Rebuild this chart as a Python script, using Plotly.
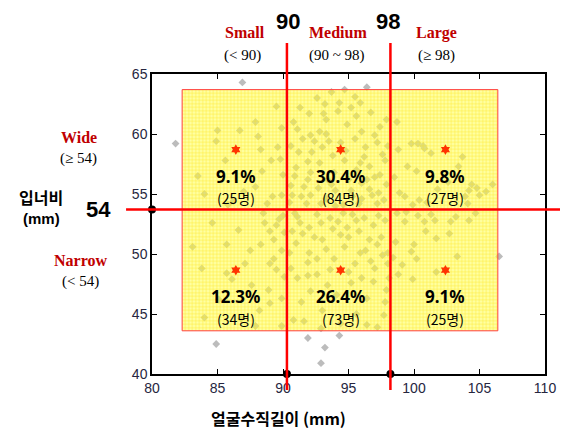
import plotly.graph_objects as go

# ---- data ----
tl = [(81.8,59.2),(86.9,64.3),(87.9,61.0),(85.0,60.3),(86.7,60.3),(84.9,59.4),(88.1,59.8),(89.9,60.5),
      (85.6,57.8),(88.3,58.7),(89.1,57.8),(89.8,57.9),(88.4,56.9),(87.9,55.6),(89.2,54.8),(89.9,54.9),
      (90.0,56.6),(89.5,62.3),(84.0,55.0),(86.2,54.4),(88.8,54.2),(83.5,56.5),(87.0,55.2),(89.6,58.9),(85.8,54.1)]
tm = [(93.2,62.5),(92.0,61.7),(93.1,61.7),(93.3,61.2),(91.1,60.4),(92.1,59.9),(93.3,60.0),(92.8,60.2),
      (92.4,59.4),(93.5,59.4),(91.2,58.5),(93.8,58.2),(91.9,57.7),(92.1,56.8),(91.9,56.2),(93.4,56.2),
      (90.6,55.7),(90.7,54.9),(91.4,54.8),(92.1,54.9),(96.4,63.9),(94.7,63.7),(95.5,63.1),(95.9,62.6),
      (97.0,59.9),(97.2,59.3),(96.3,58.9),(94.7,57.8),(97.8,57.8),(96.6,57.3),(97.0,56.4),(96.4,56.2),
      (97.9,55.8),(95.3,54.8),(96.8,54.9),(97.7,54.5),(95.2,62.2),(97.4,60.6),(96.0,60.2),(95.9,57.6),
      (95.6,57.0),(97.4,56.6),(96.0,55.9),(96.6,55.4),(97.2,54.2),(95.8,54.2),(94.6,54.1),(94.0,55.3),
      (93.3,54.6),(92.7,55.5),(93.9,56.8),(94.4,59.3),(94.9,60.8),(95.6,61.5),(94.2,61.9),(92.6,63.0),
      (91.3,62.2),(90.8,61.0),(90.6,59.0),(91.0,57.2),(92.8,57.6),(94.8,58.6),(93.7,55.8),(95.0,56.2),
      (91.6,55.6),(90.5,54.3),(91.8,54.2),(92.9,54.2),(94.0,54.0),(95.2,55.3),(97.9,61.2),(98.0,59.0),
      (97.6,58.3),(95.5,59.6),(93.7,63.5),(94.3,62.6),(96.7,61.8),(96.2,58.1),(92.2,58.5),(93.0,58.9),
      (91.5,59.6),(90.9,56.5),(97.3,55.1),(96.0,54.6)]
tr = [(98.7,61.0),(99.8,59.2),(100.3,59.2),(100.8,58.8),(98.8,58.7),(99.5,57.3),(100.2,56.9),(103.7,58.1),
      (103.4,57.3),(106.0,55.8),(104.4,55.8),(104.2,55.3),(98.9,55.1),(99.3,54.8),(100.4,54.5),(99.9,54.1),
      (103.9,54.8),(104.8,55.5),(101.3,58.4),(100.7,59.0),(104.1,54.2),(105.0,54.9),(101.8,55.4),(102.6,56.0),
      (98.5,56.4),(101.0,54.3),(105.5,55.2)]
bl = [(83.1,50.6),(85.7,50.8),(87.5,50.3),(87.1,49.2),(85.7,48.4),(86.1,47.9),(89.0,49.2),(89.3,49.6),
      (89.9,50.3),(90.1,51.8),(89.0,51.9),(89.5,52.4),(88.5,53.4),(88.9,47.0),(89.0,45.9),(89.9,46.3),
      (84.0,44.7),(87.9,44.0),(89.9,44.0),(84.9,42.5),(89.5,48.7),(90.0,53.2),(89.7,52.9),(88.6,52.6),
      (89.3,51.2),(88.3,50.8),(86.6,52.0),(84.6,52.6),(87.6,47.4),(85.1,46.2),(88.2,45.3),(86.8,44.6),
      (90.1,48.1),(83.8,48.8)]
bm = [(91.1,53.1),(91.3,52.6),(92.0,52.2),(92.6,53.3),(93.0,51.2),(91.0,50.9),(92.0,50.1),(91.9,49.3),
      (90.6,48.8),(91.1,48.0),(91.9,48.2),(92.6,48.3),(92.1,46.9),(90.8,44.5),(91.9,43.0),(92.9,40.9),
      (95.3,53.3),(96.2,53.0),(95.6,52.8),(94.4,51.6),(95.0,51.4),(95.8,51.9),(96.9,52.4),(97.5,51.4),
      (97.2,50.8),(96.3,50.3),(95.9,50.1),(96.7,49.4),(97.0,48.8),(98.0,50.1),(98.0,49.2),(96.9,47.7),
      (97.9,47.0),(97.8,46.0),(97.7,44.9),(93.6,53.0),(94.2,52.7),(93.8,52.1),(94.6,53.4),(97.3,53.2),
      (97.8,52.8),(93.3,50.4),(93.9,49.6),(94.7,50.6),(92.6,49.6),(90.7,51.9),(90.5,50.1),(93.4,47.4),
      (95.2,47.6),(94.1,46.6),(91.4,46.0),(93.0,45.3),(95.6,45.0),(96.4,46.3),(91.6,44.4),(94.4,44.2),
      (96.4,44.1),(97.2,43.9),(92.9,43.8),(95.0,48.5),(96.0,48.0),(93.6,48.7),(92.4,51.4),(91.5,51.7),
      (96.6,51.2),(97.6,49.9),(94.9,52.2),(92.9,52.6),(90.9,53.4),(98.1,48.0),(94.3,43.2),(93.2,42.2),
      (95.5,49.2)]
br = [(98.7,53.4),(99.4,53.5),(99.3,52.7),(100.8,52.7),(101.6,52.8),(102.8,52.7),(101.7,51.3),(100.9,51.9),
      (102.7,51.7),(100.0,50.8),(99.8,50.2),(100.2,49.6),(103.3,49.8),(99.1,49.1),(98.8,48.3),(99.9,47.9),
      (101.7,48.5),(106.5,49.8),(101.3,53.3),(103.2,53.1),(104.7,53.4),(104.2,52.8),(98.6,51.0),(98.4,49.7),
      (100.3,53.2)]
points = tl + tm + tr + bl + bm + br
px = [p[0] for p in points]
py = [p[1] for p in points]

cut_x = [90.3, 98.2]        # drawn positions of the 90 / 98 cut lines
cut_y = 53.7                # drawn position of the 54 cut line
rect_x = [82.3, 106.4]
rect_y = [43.6, 63.7]
center_x = [86.4, 94.4, 102.4]
center_y = [58.7, 48.65]
pct_top = ["9.1%", "30.4%", "9.8%"]
cnt_top = ["(25명)", "(84명)", "(27명)"]
pct_bot = ["12.3%", "26.4%", "9.1%"]
cnt_bot = ["(34명)", "(73명)", "(25명)"]
pct_y = [56.5, 46.5]
cnt_y = [54.7, 44.6]
x_ticks = [80, 85, 90, 95, 100, 105, 110]
y_ticks = [40, 45, 50, 55, 60, 65]

fig = go.Figure()

fig.add_trace(go.Scatter(x=px, y=py, mode="markers",
    marker=dict(symbol="diamond", size=6, color="#bcbcbc"), hoverinfo="skip"))

# yellow grid rectangle on top (semi-transparent)
fig.add_trace(go.Scatter(
    x=[rect_x[0], rect_x[1], rect_x[1], rect_x[0], rect_x[0]],
    y=[rect_y[0], rect_y[0], rect_y[1], rect_y[1], rect_y[0]],
    mode="lines", fill="toself",
    fillcolor="rgba(255,255,70,0.5)",
    fillpattern=dict(shape="+", size=3.5, solidity=0.3, fgcolor="#ffdd00", fgopacity=0.6, fillmode="overlay"),
    line=dict(color="#ff4040", width=1), hoverinfo="skip"))

fig.add_trace(go.Scatter(x=[c for c in center_x for _ in center_y], y=[r for _ in center_x for r in center_y],
    mode="markers", marker=dict(symbol="hexagram", size=8, color="#ff3300"), hoverinfo="skip"))

fig.add_trace(go.Scatter(x=[cut_x[0], cut_x[1], 80], y=[40, 40, cut_y], mode="markers",
    marker=dict(size=8, color="black"), cliponaxis=False, hoverinfo="skip"))

red = "#ff0000"
for cx in cut_x:
    fig.add_shape(type="line", xref="x", yref="paper", x0=cx, x1=cx, y0=-0.053, y1=1.103,
                  line=dict(color=red, width=2.5), layer="above")
fig.add_shape(type="line", xref="paper", yref="y", x0=-0.066, x1=1.06, y0=cut_y, y1=cut_y,
              line=dict(color=red, width=2.5), layer="above")

kr = "Noto Sans CJK KR"
pf = "Noto Sans"
for i, cx in enumerate(center_x):
    fig.add_annotation(x=cx, y=pct_y[0], text=f"<b>{pct_top[i]}</b>", showarrow=False,
                       font=dict(family=pf, size=17, color="black"))
    fig.add_annotation(x=cx, y=cnt_y[0], text=cnt_top[i], showarrow=False,
                       font=dict(family=kr, size=14, color="black"))
    fig.add_annotation(x=cx, y=pct_y[1], text=f"<b>{pct_bot[i]}</b>", showarrow=False,
                       font=dict(family=pf, size=17, color="black"))
    fig.add_annotation(x=cx, y=cnt_y[1], text=cnt_bot[i], showarrow=False,
                       font=dict(family=kr, size=14, color="black"))

serif = "Liberation Serif"
dred = "#c00000"
labels = [
    (0.236, 1.137, "<b>Small</b>", serif, 16, dred),
    (0.231, 1.063, "(< 90)", serif, 15, "black"),
    (0.346, 1.175, "<b>90</b>", "Liberation Sans", 22, "black"),
    (0.474, 1.137, "<b>Medium</b>", serif, 16, dred),
    (0.472, 1.063, "(90 ~ 98)", serif, 15, "black"),
    (0.600, 1.175, "<b>98</b>", "Liberation Sans", 22, "black"),
    (0.725, 1.137, "<b>Large</b>", serif, 16, dred),
    (0.725, 1.063, "(≥ 98)", serif, 15, "black"),
    (-0.187, 0.790, "<b>Wide</b>", serif, 16, dred),
    (-0.187, 0.717, "(≥ 54)", serif, 15, "black"),
    (-0.282, 0.590, "<b>입너비</b>", kr, 16, "black"),
    (-0.282, 0.517, "<b>(mm)</b>", "Liberation Sans", 15, "black"),
    (-0.136, 0.547, "<b>54</b>", "Liberation Sans", 22, "black"),
    (-0.182, 0.380, "<b>Narrow</b>", serif, 16, dred),
    (-0.182, 0.307, "(< 54)", serif, 15, "black"),
    (0.322, -0.147, "<b>얼굴수직길이 (mm)</b>", kr, 16, "black"),
]
for x, y, t, fam, sz, col in labels:
    fig.add_annotation(xref="paper", yref="paper", x=x, y=y, text=t, showarrow=False,
                       xanchor="center", yanchor="middle", font=dict(family=fam, size=sz, color=col))

axis_common = dict(showgrid=False, zeroline=False, showline=True, linecolor="black", linewidth=1.5,
                   mirror="ticks", ticks="inside", ticklen=5, tickcolor="black",
                   tickfont=dict(family="Liberation Sans", size=14, color="#262640"))
fig.update_xaxes(range=[80, 110], tickvals=x_ticks, **axis_common)
fig.update_yaxes(range=[40, 65], tickvals=y_ticks, **axis_common)

# page body adds an 8px offset; compensate so the plot sits where the reference has it
fig.update_layout(width=560, height=422, showlegend=False,
                  margin=dict(l=144, r=18, t=66, b=56),
                  plot_bgcolor="white", paper_bgcolor="white")

fig.write_html("out.html")
